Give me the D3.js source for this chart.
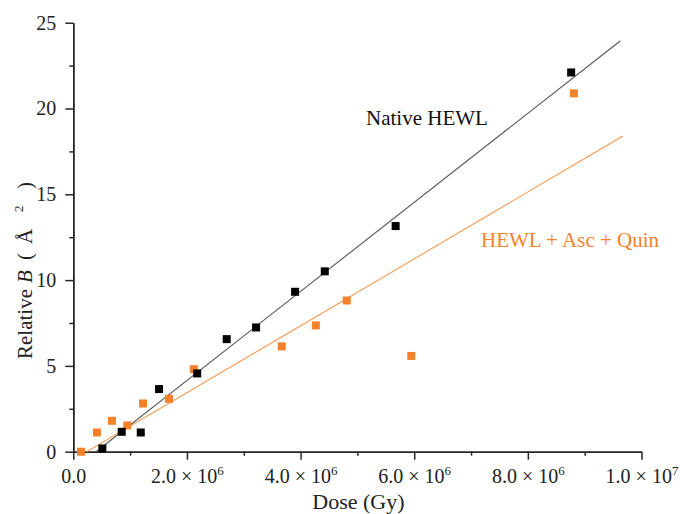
<!DOCTYPE html>
<html>
<head>
<meta charset="utf-8">
<script src="https://cdn.jsdelivr.net/npm/d3@7"></script>
<style>
  html, body { margin: 0; padding: 0; background: #fff; }
  svg { display: block; }
  text { font-family: "Liberation Serif", "Times New Roman", serif; }
</style>
</head>
<body>
<svg id="chart" width="680" height="514"></svg>
<script>
// ---- data ----
const nativeDose = [0.511e6, 0.852e6, 1.187e6, 1.509e6, 2.181e6, 2.70e6, 3.217e6, 3.903e6, 4.426e6, 5.673e6, 8.762e6];
const nativeB    = [0.19, 1.16, 1.12, 3.65, 4.56, 6.56, 7.24, 9.32, 10.51, 13.15, 22.10];
const ascDose    = [0.136e6, 0.417e6, 0.681e6, 0.951e6, 1.227e6, 1.685e6, 2.120e6, 3.669e6, 4.269e6, 4.813e6, 5.949e6, 8.810e6];
const ascB       = [0.0, 1.12, 1.80, 1.53, 2.81, 3.08, 4.81, 6.14, 7.36, 8.81, 5.58, 20.88];
const nativeFitDose = [0.40e6, 9.63e6];
const nativeFitB    = [0, 23.95];
const ascFitDose    = [0.235e6, 9.67e6];
const ascFitB       = [0, 18.39];
const xMajorTicks = [0, 2e6, 4e6, 6e6, 8e6, 1e7];
const xMinorTicks = [1e6, 3e6, 5e6, 7e6, 9e6];
const xTickMantissa = ["0.0", "2.0", "4.0", "6.0", "8.0", "1.0"];
const xTickExponent = ["", "6", "6", "6", "6", "7"];
const yMajorTicks = [0, 5, 10, 15, 20, 25];
const yMinorTicks = [2.5, 7.5, 12.5, 17.5, 22.5];
const seriesLabels = ["Native HEWL", "HEWL + Asc + Quin"];

// ---- layout ----
const svg = d3.select("#chart");
const mLeft = 73.3, mRight = 641.5, mTop = 22.7, mBottom = 451.7;
const x = d3.scaleLinear().domain([0, 1e7]).range([mLeft, mRight]);
const y = d3.scaleLinear().domain([0, 25]).range([mBottom, mTop]);
const axisColor = "#262626";
const orange = "#f5822a";
const serif = '"Liberation Serif", "Times New Roman", serif';

// minor ticks
const gx = svg.append("g").attr("transform", `translate(0,${mBottom})`);
gx.call(d3.axisBottom(x).tickValues(xMinorTicks).tickSize(4).tickSizeOuter(0).tickFormat(""));
const gx2 = svg.append("g").attr("transform", `translate(0,${mBottom})`);
gx2.call(d3.axisBottom(x).tickValues(xMajorTicks).tickSize(8).tickSizeOuter(0).tickFormat(""));
const gy = svg.append("g").attr("transform", `translate(${mLeft},0)`);
gy.call(d3.axisLeft(y).tickValues(yMinorTicks).tickSize(4).tickSizeOuter(0).tickFormat(""));
const gy2 = svg.append("g").attr("transform", `translate(${mLeft},0)`);
gy2.call(d3.axisLeft(y).tickValues(yMajorTicks).tickSize(8).tickSizeOuter(0).tickPadding(9).tickFormat(d3.format("d")));

[gx, gx2, gy, gy2].forEach(g => {
  g.selectAll("path.domain").attr("stroke", axisColor).attr("stroke-width", 1.5);
  g.selectAll(".tick line").attr("stroke", axisColor).attr("stroke-width", 1.5);
});
gy2.selectAll(".tick text").attr("font-size", 20).attr("fill", "#222")
   .style("font-family", serif);

// x tick labels with superscripts
gx2.selectAll(".tick").each(function(d, i) {
  const t = d3.select(this).append("text")
    .attr("y", 31).attr("text-anchor", "middle").attr("fill", "#222")
    .attr("font-size", 20)
    .style("font-family", serif);
  if (xTickExponent[i] === "") {
    t.text(xTickMantissa[i]);
  } else {
    t.append("tspan").text(xTickMantissa[i] + " \u00D7 10");
    t.append("tspan").attr("dy", -8).attr("font-size", 13).text(xTickExponent[i]);
  }
});

// axis titles
svg.append("text").attr("x", (mLeft + mRight) / 2 + 1).attr("y", 509)
  .attr("text-anchor", "middle").attr("font-size", 22).attr("fill", "#222")
  .text("Dose (Gy)");
const yt = svg.append("text")
  .attr("transform", "translate(32,359) rotate(-90)")
  .attr("text-anchor", "start").attr("font-size", 21).attr("fill", "#222");
yt.append("tspan").attr("x", 0).text("Relative");
yt.append("tspan").attr("x", 76).attr("font-style", "italic").text("B");
yt.append("tspan").attr("x", 99).text("(");
yt.append("tspan").attr("x", 115).text("\u00C5");
yt.append("tspan").attr("x", 147).attr("dy", -9).attr("font-size", 13).text("2");
yt.append("tspan").attr("x", 170).attr("dy", 9).text(")");

// fit lines
const line = d3.line().x(d => x(d[0])).y(d => y(d[1]));
svg.append("path").datum(d3.zip(ascFitDose, ascFitB)).attr("d", line)
  .attr("fill", "none").attr("stroke", "#f6a464").attr("stroke-width", 1.2);
svg.append("path").datum(d3.zip(nativeFitDose, nativeFitB)).attr("d", line)
  .attr("fill", "none").attr("stroke", "#555").attr("stroke-width", 1.1);

// markers
const s = 8;
svg.append("g").selectAll("rect").data(d3.zip(ascDose, ascB)).join("rect")
  .attr("x", d => x(d[0]) - s / 2).attr("y", d => y(d[1]) - s / 2)
  .attr("width", s).attr("height", s).attr("fill", orange);
svg.append("g").selectAll("rect").data(d3.zip(nativeDose, nativeB)).join("rect")
  .attr("x", d => x(d[0]) - s / 2).attr("y", d => y(d[1]) - s / 2)
  .attr("width", s).attr("height", s).attr("fill", "#000");

// annotations
svg.append("text").attr("x", 366).attr("y", 125).attr("font-size", 21).attr("fill", "#111")
  .text(seriesLabels[0]);
svg.append("text").attr("x", 481).attr("y", 247).attr("font-size", 21).attr("fill", orange)
  .text(seriesLabels[1]);
</script>
</body>
</html>
